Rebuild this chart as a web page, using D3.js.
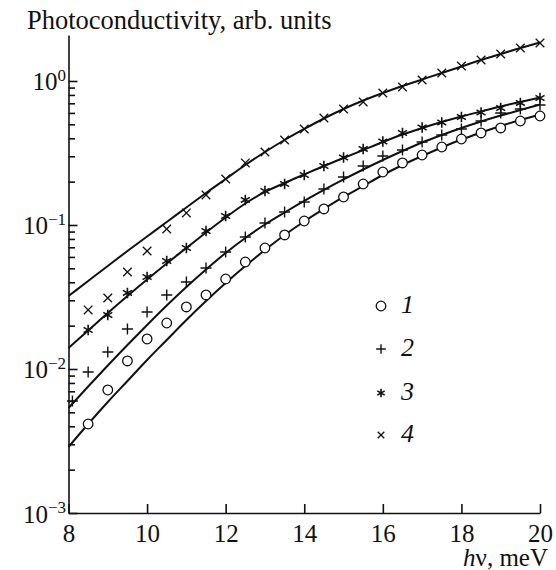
<!DOCTYPE html>
<html><head><meta charset="utf-8">
<script src="https://cdn.jsdelivr.net/npm/d3@7"></script>
<style>
body{margin:0;background:#fff}
svg{display:block}
text{font-family:"Liberation Serif","Times New Roman",serif;fill:#111}
</style>
</head><body>
<svg id="c" width="556" height="570"></svg>
<script>
// ---- data ----
const energyPts  = [8.5,9,9.5,10,10.5,11,11.5,12,12.5,13,13.5,14,14.5,15,15.5,16,16.5,17,17.5,18,18.5,19,19.5,20];
const energyPts2 = [8.1,8.5,9,9.5,10,10.5,11,11.5,12,12.5,13,13.5,14,14.5,15,15.5,16,16.5,17,17.5,18,18.5,19,19.5,20];
const energyFit  = [8,8.5,9,9.5,10,10.5,11,11.5,12,12.5,13,13.5,14,14.5,15,15.5,16,16.5,17,17.5,18,18.5,19,19.5,20];

const series1 = [0.00415,0.00715,0.01137,0.01616,0.02086,0.02697,0.03266,0.04217,0.05534,0.0692,0.08525,0.1066,0.1292,0.1565,0.1926,0.2334,0.2696,0.3063,0.3481,0.3955,0.4355,0.4718,0.5275,0.5714];
const series2 = [0.0060,0.00953,0.01312,0.01896,0.02488,0.03266,0.04018,0.05025,0.06494,0.08254,0.1032,0.1231,0.1445,0.1778,0.2154,0.2569,0.3014,0.3318,0.377,0.4217,0.4642,0.5275,0.5995,0.6388,0.6813];
const series3 = [0.01866,0.02371,0.03373,0.04355,0.05623,0.0692,0.09085,0.1155,0.1492,0.1722,0.1926,0.2224,0.2569,0.2943,0.3373,0.38,0.4355,0.4754,0.515,0.5623,0.6043,0.6494,0.7037,0.7621];
const series4 = [0.0257,0.03112,0.04718,0.06598,0.0938,0.1212,0.1616,0.2086,0.2696,0.3213,0.3892,0.4642,0.5535,0.6388,0.715,0.8254,0.9085,1.016,1.136,1.271,1.399,1.54,1.695,1.836];

const fit1 = [0.002873,0.00415,0.005902,0.008254,0.01155,0.0159,0.02189,0.02967,0.03955,0.0519,0.06703,0.08525,0.1058,0.1292,0.1565,0.1866,0.2224,0.261,0.3014,0.3454,0.3924,0.4388,0.487,0.5362,0.5854];
const fit2 = [0.005361,0.007556,0.01058,0.01468,0.02021,0.0276,0.0371,0.04909,0.06393,0.08125,0.1008,0.1221,0.1468,0.175,0.207,0.2428,0.2828,0.3266,0.3741,0.4217,0.4718,0.5233,0.5757,0.6289,0.6866];
const fit3 = [0.01399,0.01851,0.02449,0.03214,0.04184,0.05405,0.0692,0.08869,0.1127,0.141,0.1695,0.1957,0.2243,0.2569,0.292,0.3318,0.377,0.425,0.4718,0.5192,0.5668,0.6141,0.6653,0.715,0.768];
const fit4 = [0.03214,0.04084,0.0519,0.06598,0.08318,0.105,0.1323,0.1668,0.2086,0.261,0.3213,0.3892,0.4642,0.549,0.6388,0.7318,0.8254,0.9232,1.024,1.136,1.261,1.399,1.54,1.695,1.851];

const xTicks = [8,10,12,14,16,18,20];
const yMajor = [1e-3,1e-2,1e-1,1];
const yExpLabels = ["\u22123","\u22122","\u22121","0"];
const yMinor = [2e-3,3e-3,4e-3,5e-3,6e-3,7e-3,8e-3,9e-3,2e-2,3e-2,4e-2,5e-2,6e-2,7e-2,8e-2,9e-2,0.2,0.3,0.4,0.5,0.6,0.7,0.8,0.9];
const legendLabels = ["1","2","3","4"];
const titleText = "Photoconductivity, arb. units";

// ---- layout ----
const svg = d3.select("#c");
const x = d3.scaleLinear().domain([8,20]).range([68.5,540]);
const y = d3.scaleLog().domain([1e-3,2.086]).range([513,35]);

// marker shapes
const markers = {
  circle: r => `M${r},0A${r},${r},0,1,1,${-r},0A${r},${r},0,1,1,${r},0Z`,
  plus: r => `M${-r},0H${r}M0,${-r}V${r}`,
  star: r => { const u=r*Math.cos(Math.PI/6), t=r/2; return `M0,${-r}V${r}M${-u},${-t}L${u},${t}M${-u},${t}L${u},${-t}`; },
  times: r => `M${-r},${-r}L${r},${r}M${-r},${r}L${r},${-r}`
};

// axes
const gy = svg.append("g").attr("transform","translate(68.5,0)")
  .call(d3.axisLeft(y).tickValues(yMajor).tickSize(-9).tickSizeOuter(0).tickFormat(""));
const gyMinor = svg.append("g").attr("transform","translate(68.5,0)")
  .call(d3.axisLeft(y).tickValues(yMinor).tickSize(-6.5).tickSizeOuter(0).tickFormat(""));
gyMinor.select(".domain").remove();
const gx = svg.append("g").attr("transform","translate(0,513)")
  .call(d3.axisBottom(x).tickValues(xTicks).tickSize(-9).tickSizeOuter(0).tickPadding(11).tickFormat(d3.format("d")));
[gy,gyMinor,gx].forEach(g=>{
  g.selectAll("path,line").attr("stroke","#111").attr("stroke-width",1.6);
});
gx.attr("font-family","'Liberation Serif','Times New Roman',serif").attr("font-size",25);
gx.selectAll("text").attr("fill","#111");

// y labels 10^n
yMajor.forEach((v,i)=>{
  const t = svg.append("text").attr("x",66).attr("y",y(v)+9.5)
    .attr("text-anchor","end").attr("font-size",25);
  t.append("tspan").text("10");
  t.append("tspan").attr("font-size",17).attr("dy",-9.5).text(yExpLabels[i]);
});

// title and x label
svg.append("text").attr("x",27).attr("y",29).attr("font-size",26.5).text(titleText);
const xl = svg.append("text").attr("x",548).attr("y",566).attr("text-anchor","end").attr("font-size",25);
xl.append("tspan").attr("font-style","italic").text("h");
xl.append("tspan").text("\u03bd, meV");

// fit curves
const line = d3.line().x(d=>x(d[0])).y(d=>y(d[1])).curve(d3.curveMonotoneX);
[fit1,fit2,fit3,fit4].forEach(f=>{
  svg.append("path").attr("d",line(energyFit.map((e,i)=>[e,f[i]])))
    .attr("fill","none").attr("stroke","#111").attr("stroke-width",2);
});

// data markers
const seriesDefs = [
  {xs:energyPts, ys:series1, shape:"circle", r:4.8, fill:"#fff", sw:1.3},
  {xs:energyPts2, ys:series2, shape:"plus", r:5.5, fill:"none", sw:1.4},
  {xs:energyPts, ys:series3, shape:"star", r:5.2, fill:"none", sw:1.6},
  {xs:energyPts, ys:series4, shape:"times", r:4.3, fill:"none", sw:1.3}
];
seriesDefs.forEach(s=>{
  svg.append("g").selectAll("path").data(s.xs.map((e,i)=>[e,s.ys[i]])).join("path")
    .attr("transform",d=>`translate(${x(d[0])},${y(d[1])})`)
    .attr("d",markers[s.shape](s.r))
    .attr("fill",s.fill).attr("stroke","#111").attr("stroke-width",s.sw);
});

// legend
const legRows = [306,349,393,435];
seriesDefs.forEach((s,i)=>{
  const rr = s.shape==="times" ? 3.3 : (s.shape==="star" ? 4.3 : 4.8);
  svg.append("path").attr("transform",`translate(381,${legRows[i]})`)
    .attr("d",markers[s.shape](rr))
    .attr("fill",s.fill).attr("stroke","#111").attr("stroke-width",s.sw);
  svg.append("text").attr("x",401).attr("y",legRows[i]+7).attr("font-size",26)
    .attr("font-style","italic").text(legendLabels[i]);
});
</script>
</body></html>
